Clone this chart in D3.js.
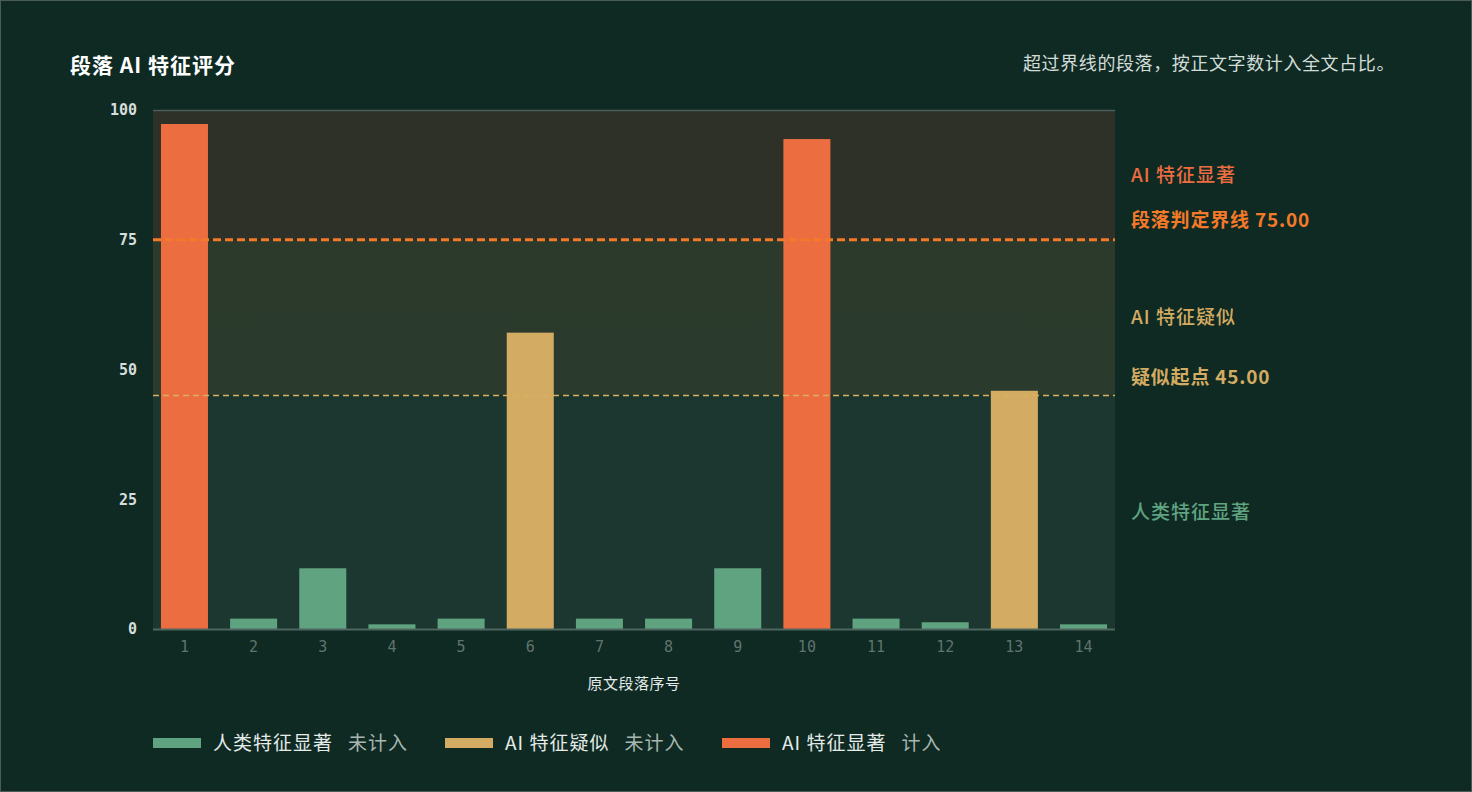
<!DOCTYPE html>
<html lang="zh">
<head>
<meta charset="UTF-8">
<title>段落 AI 特征评分</title>
<script src="https://d3js.org/d3.v7.min.js"></script>
<style>
  html, body { margin: 0; padding: 0; background: #0f2a23; }
  #chart { width: 1472px; height: 792px; }
  text { font-family: "Noto Sans CJK SC", "Noto Sans", sans-serif; }
  .mono { font-family: "DejaVu Sans Mono", monospace; }
</style>
</head>
<body>
<div id="chart"></div>
<script>
// data
var paragraphs = ["1","2","3","4","5","6","7","8","9","10","11","12","13","14"];
var scores = [97.3, 2.0, 11.7, 0.9, 2.0, 57.1, 2.0, 2.0, 11.7, 94.4, 2.0, 1.3, 45.9, 0.9];
var yTicks = [0, 25, 50, 75, 100];
var aiLine = 75;
var suspectLine = 45;
var zoneNames = ["人类特征显著", "AI 特征疑似", "AI 特征显著"];
var zoneStatus = ["未计入", "未计入", "计入"];

var colors = ["#60a381", "#d3ab62", "#ec6d40"];

var W = 1472, H = 792;
var margin = {top: 110, right: 357, bottom: 163, left: 153};
var width = W - margin.left - margin.right,
    height = H - margin.top - margin.bottom;

var svg = d3.select("#chart").append("svg")
    .attr("width", W).attr("height", H);

svg.append("rect").attr("x", 0.5).attr("y", 0.5)
    .attr("width", W - 1).attr("height", H - 1)
    .attr("fill", "#0f2a23").attr("stroke", "#4a5c57");

var defs = svg.append("defs");
var mid = defs.append("linearGradient").attr("id", "midZone")
    .attr("x1", 0).attr("y1", 0).attr("x2", 0).attr("y2", 1);
mid.append("stop").attr("offset", "0%").attr("stop-color", "#2b3a2b");
mid.append("stop").attr("offset", "100%").attr("stop-color", "#2a3a2c");

var g = svg.append("g")
    .attr("transform", "translate(" + margin.left + "," + margin.top + ")");

var y = d3.scaleLinear().domain([0, 100]).range([height, 0]);
var x = d3.scaleBand().domain(paragraphs).range([0, width])
    .paddingInner(0.32).paddingOuter(0.115);

function zoneOf(v) { return v >= aiLine ? 2 : (v >= suspectLine ? 1 : 0); }

// zone backgrounds
g.append("rect").attr("x", 0).attr("width", width)
    .attr("y", y(100)).attr("height", y(aiLine) - y(100)).attr("fill", "#2d3128");
g.append("rect").attr("x", 0).attr("width", width)
    .attr("y", y(aiLine)).attr("height", y(suspectLine) - y(aiLine)).attr("fill", "url(#midZone)");
g.append("rect").attr("x", 0).attr("width", width)
    .attr("y", y(suspectLine)).attr("height", y(0) - y(suspectLine)).attr("fill", "#1b372f");

// top border line
g.append("line").attr("x1", 0).attr("x2", width)
    .attr("y1", 0.5).attr("y2", 0.5)
    .attr("stroke", "#4a5e58").attr("stroke-width", 1.5);

// bars
g.selectAll(".bar").data(scores).enter().append("rect")
    .attr("class", "bar")
    .attr("x", function(d, i) { return x(paragraphs[i]); })
    .attr("y", function(d) { return y(d); })
    .attr("width", x.bandwidth())
    .attr("height", function(d) { return y(0) - y(d); })
    .attr("fill", function(d) { return colors[zoneOf(d)]; });

// threshold lines
g.append("line").attr("x1", 0).attr("x2", width)
    .attr("y1", y(aiLine)).attr("y2", y(aiLine))
    .attr("stroke", "#f47a2a").attr("stroke-width", 3)
    .attr("stroke-dasharray", "8,4");
g.append("line").attr("x1", 0).attr("x2", width)
    .attr("y1", y(suspectLine)).attr("y2", y(suspectLine))
    .attr("stroke", "#d9b060").attr("stroke-width", 1.5)
    .attr("stroke-dasharray", "6,4");

// x axis
var xAxis = g.append("g")
    .attr("transform", "translate(0," + height + ")")
    .call(d3.axisBottom(x).tickSize(0).tickPadding(12));
xAxis.select(".domain").attr("stroke", "#4f6660").attr("stroke-width", 2)
    .attr("d", "M0,0.5H" + width);
xAxis.selectAll("text").attr("class", "mono")
    .attr("fill", "#5f746d").attr("font-size", 15);

// y axis
var yAxis = g.append("g")
    .call(d3.axisLeft(y).tickValues(yTicks).tickSize(0).tickPadding(16));
yAxis.select(".domain").remove();
yAxis.selectAll("text").attr("class", "mono")
    .attr("fill", "#d6dedb").attr("font-size", 15).attr("font-weight", "bold");

// axis title
svg.append("text").attr("x", margin.left + width / 2).attr("y", 689)
    .attr("text-anchor", "middle").attr("fill", "#e6ece9")
    .attr("font-size", 15).attr("letter-spacing", 0.5).text("原文段落序号");

// title + subtitle
svg.append("text").attr("x", 70).attr("y", 73)
    .attr("fill", "#ffffff").attr("font-size", 21).attr("font-weight", "bold")
    .attr("letter-spacing", 1)
    .text("段落 AI 特征评分");
svg.append("text").attr("x", 1395).attr("y", 70)
    .attr("text-anchor", "end").attr("fill", "#d2dcd8").attr("font-size", 18)
    .attr("letter-spacing", 0.6)
    .text("超过界线的段落，按正文字数计入全文占比。");

// right side zone labels
var lx = margin.left + width + 16;
var zoneMid = [(0 + suspectLine) / 2, (suspectLine + aiLine) / 2, (aiLine + 100) / 2];
zoneMid.forEach(function(v, i) {
    svg.append("text").attr("x", lx).attr("y", margin.top + y(v))
        .attr("dy", "0.35em").attr("fill", colors[i])
        .attr("font-size", 19).attr("font-weight", 500).attr("letter-spacing", 1)
        .text(zoneNames[i]);
});
svg.append("text").attr("x", lx).attr("y", margin.top + y(aiLine) - 19)
    .attr("dy", "0.35em").attr("fill", "#f47a2a").attr("font-size", 19)
    .attr("font-weight", "bold").attr("letter-spacing", 0.8)
    .text("段落判定界线 " + aiLine.toFixed(2));
svg.append("text").attr("x", lx).attr("y", margin.top + y(suspectLine) - 18)
    .attr("dy", "0.35em").attr("fill", "#d3ab62").attr("font-size", 19)
    .attr("font-weight", "bold").attr("letter-spacing", 0.8)
    .text("疑似起点 " + suspectLine.toFixed(2));

// legend
var legendX = [153, 445, 722];
zoneNames.forEach(function(name, i) {
    var lg = svg.append("g").attr("transform", "translate(" + legendX[i] + ",743)");
    lg.append("rect").attr("x", 0).attr("y", -5).attr("width", 48).attr("height", 10)
        .attr("fill", colors[i]);
    var t = lg.append("text").attr("x", 60).attr("dy", "0.35em")
        .attr("font-size", 19).attr("letter-spacing", 1);
    t.append("tspan").attr("fill", "#e4ebe8").text(name);
    t.append("tspan").attr("fill", "#a9b7b2").attr("dx", 15).text(zoneStatus[i]);
});
</script>
</body>
</html>
